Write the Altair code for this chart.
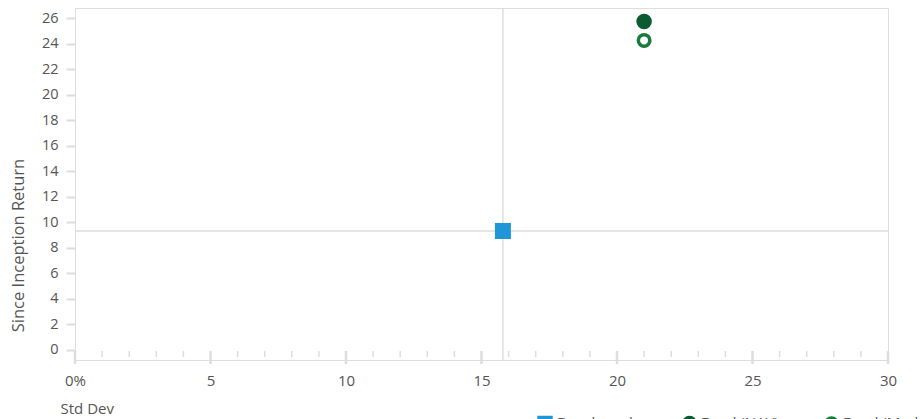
import altair as alt
import pandas as pd

# ---- data ----
series_names = ["Benchmark", "Fund (NAV)", "Fund (Market Price)"]
std_dev = [15.79, 21.0, 21.0]
since_inception = [9.31, 25.74, 24.26]

x_tick_labels = [0, 5, 10, 15, 20, 25, 30]
y_tick_labels = [0, 2, 4, 6, 8, 10, 12, 14, 16, 18, 20, 22, 24, 26]
minor_ticks = [v for v in range(0, 31) if v % 5 != 0]

df = pd.DataFrame({"name": series_names, "sd": std_dev, "ret": since_inception})
bench = df[df["name"] == "Benchmark"]
major_df = pd.DataFrame({"v": x_tick_labels})
minor_df = pd.DataFrame({"v": minor_ticks})

FONT = "Open Sans"
GRID = "#dddddd"
LABEL = "#555555"

xscale = alt.Scale(domain=[0, 30], nice=False, zero=False)
yscale = alt.Scale(domain=[-0.8, 26.8], nice=False, zero=False)

x_axis = alt.Axis(
    values=x_tick_labels, ticks=False, domain=False, grid=False,
    labelFlush=False, labelOverlap=False,
    labelPadding=13, labelFontSize=15, labelColor=LABEL, labelFont=FONT,
    labelExpr="datum.value == 0 ? '0%' : datum.label",
    title="Std Dev", titleFont=FONT, titleFontSize=15, titleFontWeight="normal",
    titleColor=LABEL, titleX=-15, titleY=48, titleAnchor="start",
    titleAlign="left", titleBaseline="middle",
)
y_axis = alt.Axis(
    values=y_tick_labels, domain=False, grid=False,
    labelFlush=False, labelOverlap=False,
    tickColor=GRID, tickWidth=2, tickSize=9,
    labelPadding=8, labelFontSize=14.5, labelColor=LABEL, labelFont=FONT,
    title="Since Inception Return", titleFont=FONT, titleFontSize=16.5,
    titleFontWeight="normal", titleColor=LABEL, titleX=-57, titleY=237,
    titleAngle=-90, titleAlign="center", titleBaseline="middle",
)

vline = alt.Chart(bench).mark_rule(color=GRID, strokeWidth=1.5).encode(
    x=alt.X("sd:Q", scale=xscale, axis=x_axis)
)
hline = alt.Chart(bench).mark_rule(color=GRID, strokeWidth=1.5).encode(
    y=alt.Y("ret:Q", scale=yscale, axis=y_axis)
)

major = alt.Chart(major_df).mark_rule(color=GRID, strokeWidth=2.5).encode(
    x=alt.X("v:Q", scale=xscale, axis=x_axis),
    y=alt.value(343), y2=alt.value(356),
)
minor = alt.Chart(minor_df).mark_rule(color=GRID, strokeWidth=1.5).encode(
    x=alt.X("v:Q", scale=xscale, axis=x_axis),
    y=alt.value(343), y2=alt.value(349),
)

legend = alt.Legend(
    orient="none", legendX=462, legendY=407, direction="horizontal", title=None,
    labelFont=FONT, labelFontSize=15, labelColor=LABEL,
    columnPadding=40, symbolStrokeWidth=3, labelLimit=300,
)
points = alt.Chart(df).mark_point(strokeWidth=3.5, opacity=1).encode(
    x=alt.X("sd:Q", scale=xscale, axis=x_axis),
    y=alt.Y("ret:Q", scale=yscale, axis=y_axis),
    shape=alt.Shape("name:N", sort=series_names,
                    scale=alt.Scale(domain=series_names, range=["square", "circle", "circle"]),
                    legend=legend),
    fill=alt.Fill("name:N", sort=series_names,
                  scale=alt.Scale(domain=series_names, range=["#1f97d6", "#0b5a32", "#ffffff"]),
                  legend=legend),
    stroke=alt.Stroke("name:N", sort=series_names,
                      scale=alt.Scale(domain=series_names, range=["#1f97d6", "#0b5a32", "#187a3b"]),
                      legend=legend),
    size=alt.Size("name:N", sort=series_names,
                  scale=alt.Scale(domain=series_names, range=[156, 132, 132]),
                  legend=legend),
)

chart = alt.layer(vline, hline, minor, major, points).properties(
    width=813, height=352,
    padding={"left": 75, "top": 8, "right": 32, "bottom": 60},
    autosize=alt.AutoSizeParams(type="none"),
).configure_view(stroke=GRID, strokeWidth=3).configure(background="white")

chart.save("out.html", embed_options={"renderer": "svg", "actions": False})
